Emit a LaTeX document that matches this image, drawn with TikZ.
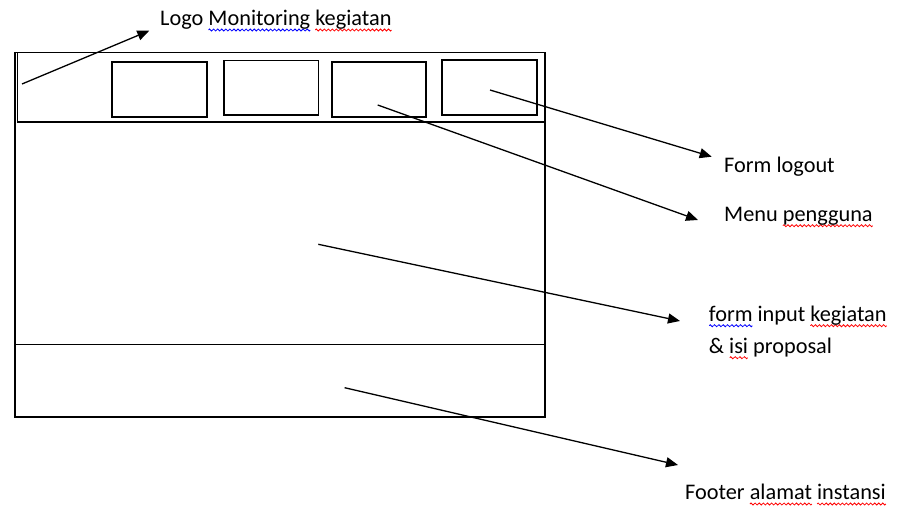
\documentclass[tikz,border=0pt]{standalone}
\usepackage{fontspec}
\setmainfont{Carlito}
\usetikzlibrary{arrows.meta}
% wavy spell-check underlines
\newsavebox{\wavered}
\newsavebox{\waveblue}
\newsavebox{\waveword}
\newcommand{\makewave}[2]{\sbox{#1}{\pgfpicture
  \pgfpathrectangle{\pgfpoint{0pt}{-1pt}}{\pgfpoint{4pt}{2pt}}\pgfusepath{use as bounding box}
  \pgfsetlinewidth{0.8pt}\pgfsetstrokecolor{#2}
  \pgfpathmoveto{\pgfpoint{0pt}{0pt}}
  \pgfpathsine{\pgfpoint{1pt}{1pt}}\pgfpathcosine{\pgfpoint{1pt}{-1pt}}
  \pgfpathsine{\pgfpoint{1pt}{-1pt}}\pgfpathcosine{\pgfpoint{1pt}{1pt}}
  \pgfusepath{stroke}\endpgfpicture}}
\newcommand{\wavy}[2]{\sbox{\waveword}{#2}\rlap{\lower5pt\hbox to\wd\waveword{\xleaders\copy#1\hfil}}\usebox{\waveword}}
\newcommand{\redwave}[1]{\wavy{\wavered}{#1}}
\newcommand{\bluewave}[1]{\wavy{\waveblue}{#1}}
\tikzset{
  lbl/.style={anchor=base west, inner sep=0pt, font=\fontsize{22.3}{32}\selectfont},
  frame/.style={line width=1.6pt},
  pointer/.style={line width=1.3pt, -{Triangle[length=12pt,width=10pt]}}
}
\begin{document}
\makewave{\wavered}{red}\makewave{\waveblue}{blue}%
\begin{tikzpicture}[x=1pt,y=-1pt]
\useasboundingbox (0,0) rectangle (900,510);
% page frame
\draw[frame] (15,52.5) rectangle (545,417);
\draw[frame] (17.5,52.5) rectangle (545,122);
\draw[frame] (15,344.5) -- (545,344.5);
% menu boxes
\foreach \xa/\xb/\ya/\yb in {112/206.7/62.3/117.3, 224/318.5/60.7/115.3, 331.7/426/62.3/117.3, 442/536.7/60.3/115.3}
  \draw[frame] (\xa,\ya) rectangle (\xb,\yb);
% labels
\node[lbl] (logo) at (160,26) {Logo \bluewave{Monitoring} \redwave{kegiatan}};
\node[lbl] (logout) at (724,173) {Form logout};
\node[lbl] (menu) at (724,221.7) {Menu \redwave{pengguna}};
\node[lbl, align=left] (isi) at (708.7,353.7) {\bluewave{form} input \redwave{kegiatan}\\\& \redwave{isi} proposal};
\node[lbl] (footer) at (685,500) {Footer \redwave{alamat} \redwave{instansi}};
% arrow ends
\coordinate (logoS) at (22,84);
\coordinate (logoT) at (149.3,30.7);
\coordinate (logoutS) at (490,90);
\coordinate (logoutT) at (711.7,156.7);
\coordinate (menuS) at (377.7,105);
\coordinate (menuT) at (698,220);
\coordinate (isiS) at (318.3,244.3);
\coordinate (isiT) at (680,321);
\coordinate (footerS) at (344.6,387.7);
\coordinate (footerT) at (678,465);
\foreach \p in {logo,logout,menu,isi,footer}
  \draw[pointer] (\p S) -- (\p T);
\end{tikzpicture}
\end{document}
